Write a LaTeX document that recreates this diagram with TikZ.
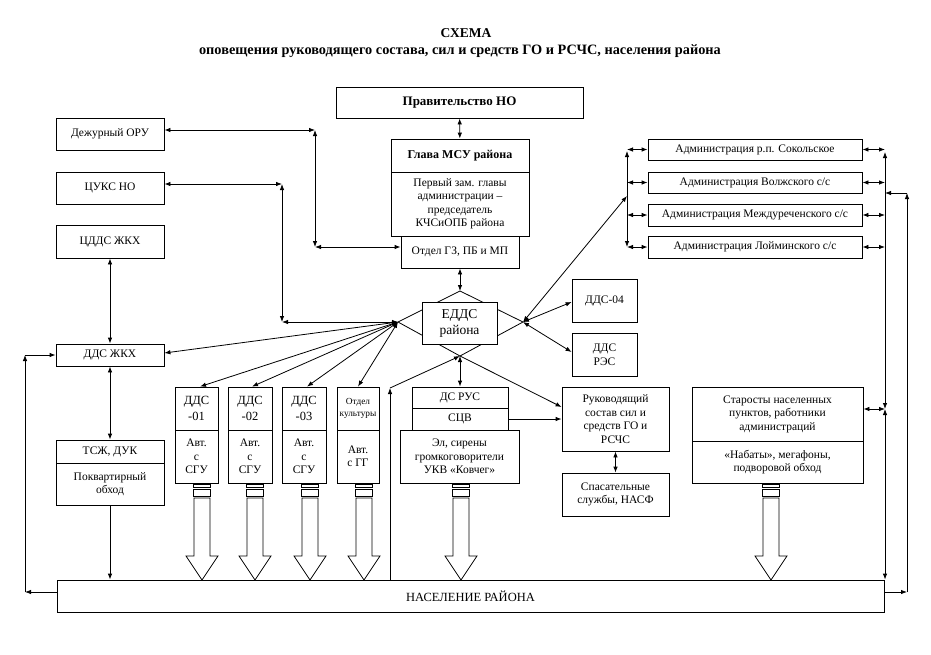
\documentclass[tikz,border=0pt]{standalone}
\usepackage{fontspec}
\setmainfont{Liberation Serif}
\usetikzlibrary{arrows.meta,calc}
\newcommand\hollowarr[2]{%
  \draw[ln] (#1-8.5,#2+1) rectangle (#1+8.5,#2+4.5);
  \draw[ln] (#1-8.5,#2+6) rectangle (#1+8.5,#2+13);
  \draw[ln,fill=white] (#1-8,#2+15) -- (#1-8,556) -- (#1-16,556) -- (#1,580) -- (#1+16,556) -- (#1+8,556) -- (#1+8,#2+15) -- cycle;}
\begin{document}
\begin{tikzpicture}[x=1pt,y=-1pt,
  ln/.style={line width=0.8pt},
  box/.style={draw, fill=white, line width=0.8pt, inner sep=1pt, align=center, font=\fontsize{11.5}{13.5}\selectfont},
  bi/.style={line width=0.8pt,{Latex[length=6pt,width=4.5pt]}-{Latex[length=6pt,width=4.5pt]}},
  uni/.style={line width=0.8pt,-{Latex[length=6pt,width=4.5pt]}}]
\useasboundingbox (0,0) rectangle (931,654);
% titles
\node[font=\bfseries\fontsize{13.5}{15}\selectfont] (title) at (466,33) {СХЕМА};
\node[font=\bfseries\fontsize{14.3}{16}\selectfont] (subtitle) at (460,51) {оповещения руководящего состава, сил и средств ГО и РСЧС, населения района};
% center column
\node[box, minimum width=247pt, minimum height=31pt, font=\bfseries\fontsize{13}{15}\selectfont] (prav) at (459.5,102.5) {Правительство НО};
\node[box, minimum width=138pt, minimum height=33pt, font=\bfseries\fontsize{12}{14}\selectfont] (glava) at (460,155.5) {Глава МСУ района};
\node[box, minimum width=138pt, minimum height=64pt] (zam) at (460,204) {Первый зам. главы\\администрации –\\председатель\\КЧСиОПБ района};
\node[box, minimum width=118pt, minimum height=32pt] (otdel) at (460,252) {Отдел ГЗ, ПБ и МП};
% diamond
\coordinate (dl) at (398,322);
\coordinate (dt) at (460,291);
\coordinate (dr) at (523,322);
\coordinate (db) at (460,356);
\draw[ln] (dl) -- (dt) -- (dr) -- (db) -- cycle;
\node[box, minimum width=75pt, minimum height=42pt, font=\fontsize{13.5}{16}\selectfont] (edds) at (459.5,323) {ЕДДС\\района};
% left column
\node[box, minimum width=108pt, minimum height=32pt] (oru) at (110,134) {Дежурный ОРУ};
\node[box, minimum width=108pt, minimum height=32pt] (cuks) at (110,188) {ЦУКС НО};
\node[box, minimum width=108pt, minimum height=33pt] (cdds) at (110,241.5) {ЦДДС ЖКХ};
\node[box, minimum width=108pt, minimum height=22pt] (ddszkh) at (110,355) {ДДС ЖКХ};
\node[box, minimum width=108pt, minimum height=23pt] (tsz) at (110,451.5) {ТСЖ, ДУК};
\node[box, minimum width=108pt, minimum height=42pt] (obhod) at (110,484) {Поквартирный\\обход};
% DDS boxes
\node[box, minimum width=43pt, minimum height=43pt, font=\fontsize{12.5}{15.5}\selectfont] (d01t) at (196.5,408.5) {ДДС\\-01};
\node[box, minimum width=43pt, minimum height=53pt] (d01b) at (196.5,456.5) {Авт.\\с\\СГУ};
\node[box, minimum width=44pt, minimum height=43pt, font=\fontsize{12.5}{15.5}\selectfont] (d02t) at (250,408.5) {ДДС\\-02};
\node[box, minimum width=44pt, minimum height=53pt] (d02b) at (250,456.5) {Авт.\\с\\СГУ};
\node[box, minimum width=44pt, minimum height=43pt, font=\fontsize{12.5}{15.5}\selectfont] (d03t) at (304,408.5) {ДДС\\-03};
\node[box, minimum width=44pt, minimum height=53pt] (d03b) at (304,456.5) {Авт.\\с\\СГУ};
\node[box, minimum width=42pt, minimum height=43pt, inner sep=0pt, font=\fontsize{9.3}{12}\selectfont] (kult) at (358,408.5) {Отдел\\культуры};
\node[box, minimum width=42pt, minimum height=53pt] (kultb) at (358,456.5) {Авт.\\с ГГ};
% center lower
\node[box, minimum width=96pt, minimum height=21pt] (dsrus) at (460,397.5) {ДС РУС};
\node[box, minimum width=96pt, minimum height=22pt] (scv) at (460,419) {СЦВ};
\node[box, minimum width=119pt, minimum height=53pt] (sireny) at (459.5,456.5) {Эл, сирены\\громкоговорители\\УКВ «Ковчег»};
\node[box, minimum width=65pt, minimum height=43pt, anchor=north, inner sep=5pt] (dds04) at (604.5,279) {ДДС-04};
\node[box, minimum width=65pt, minimum height=43pt] (ddsres) at (604.5,354.5) {ДДС\\РЭС};
\node[box, minimum width=107pt, minimum height=64pt] (ruk) at (615.5,419) {Руководящий\\состав сил и\\средств ГО и\\РСЧС};
\node[box, minimum width=107pt, minimum height=43pt] (spas) at (615.5,494.5) {Спасательные\\службы, НАСФ};
% admin boxes
\node[box, minimum width=214pt, minimum height=21pt] (adm1) at (755,149.5) {Администрация р.п. Сокольское};
\node[box, minimum width=214pt, minimum height=21pt] (adm2) at (755,182.5) {Администрация Волжского с/с};
\node[box, minimum width=214pt, minimum height=22pt] (adm3) at (755,215) {Администрация Междуреченского с/с};
\node[box, minimum width=214pt, minimum height=22pt] (adm4) at (755,247) {Администрация Лойминского с/с};
\node[box, minimum width=171pt, minimum height=54pt] (star) at (777.5,414) {Старосты населенных\\пунктов, работники\\администраций};
\node[box, minimum width=171pt, minimum height=42pt] (nabat) at (777.5,462) {«Набаты», мегафоны,\\подворовой обход};
% population
\node[box, minimum width=827pt, minimum height=32pt, font=\fontsize{12.5}{14}\selectfont] (pop) at (470.5,596) {НАСЕЛЕНИЕ РАЙОНА};
% hollow arrows
\hollowarr{202}{483}
\hollowarr{255}{483}
\hollowarr{310}{483}
\hollowarr{364}{483}
\hollowarr{461}{483}
\hollowarr{771}{483}
% coordinates
\coordinate (c1) at (315,130);
\coordinate (c2) at (315,247);
\coordinate (c3) at (282,184);
\coordinate (c4) at (282,322);
\coordinate (kv) at (390,388);
\coordinate (lbt) at (627,151);
\coordinate (lbb) at (627,247);
\coordinate (lb) at (627,196);
\coordinate (rbt) at (885,152);
\coordinate (rbm) at (885,409);
\coordinate (ro1) at (907,592);
\coordinate (ro2) at (907,193);
\coordinate (lo1) at (25,592);
\coordinate (lo2) at (25,355);
% connectors
\draw[bi] (prav) -- (glava);
\draw[bi] (otdel.south) -- (dt);
\draw[bi] (oru.east |- c1) -- (c1);
\draw[bi] (c1) -- (c2);
\draw[bi] (c2) -- (otdel.west |- c2);
\draw[bi] (cuks.east |- c3) -- (c3);
\draw[bi] (c3) -- (c4);
\draw[bi] (c4) -- (dl);
\draw[bi] (cdds) -- (ddszkh);
\draw[bi] (ddszkh) -- (tsz);
\draw[uni] (obhod.south) -- (obhod.south |- pop.north);
\draw[bi] (dl) -- ($(ddszkh.east)+(0,-2)$);
\draw[bi] (dl) -- ($(d01t.north)+(3.5,0)$);
\draw[bi] (dl) -- ($(d02t.north)+(2,0)$);
\draw[bi] (dl) -- ($(d03t.north)+(3,0)$);
\draw[bi] (dl) -- (kult.north);
\draw[uni] (kv |- pop.north) -- (kv);
\draw[uni] (kv) -- (db);
\draw[bi] (db) -- (dsrus.north -| db);
\draw[uni] (db) -- ($(ruk.west)+(0,-12)$);
\draw[uni] (scv.east) -- (scv.east -| ruk.west);
\draw[bi] (ruk) -- (spas);
\draw[bi] (dr) -- (dds04.west |- 0,302);
\draw[bi] (dr) -- (ddsres.west |- 0,352);
\draw[bi] (dr) -- (lb);
\draw[bi] (lbt) -- (lbb);
\foreach \a in {adm1,adm2,adm3,adm4}{
  \draw[bi] (\a.west -| lbt) -- (\a.west);
  \draw[bi] (\a.east) -- (\a.east -| rbt);
}
\draw[bi] (rbt) -- (rbm);
\draw[bi] (rbm) -- (pop.north -| rbm);
\draw[bi] (star.east |- rbm) -- (rbm);
\draw[uni] (pop.east |- ro1) -- (ro1);
\draw[uni] (ro1) -- (ro2);
\draw[uni] (ro2) -- (ro2 -| rbt);
\draw[uni] (pop.west |- lo1) -- (lo1);
\draw[uni] (lo1) -- (lo2);
\draw[uni] (lo2) -- (ddszkh.west);
\end{tikzpicture}
\end{document}
